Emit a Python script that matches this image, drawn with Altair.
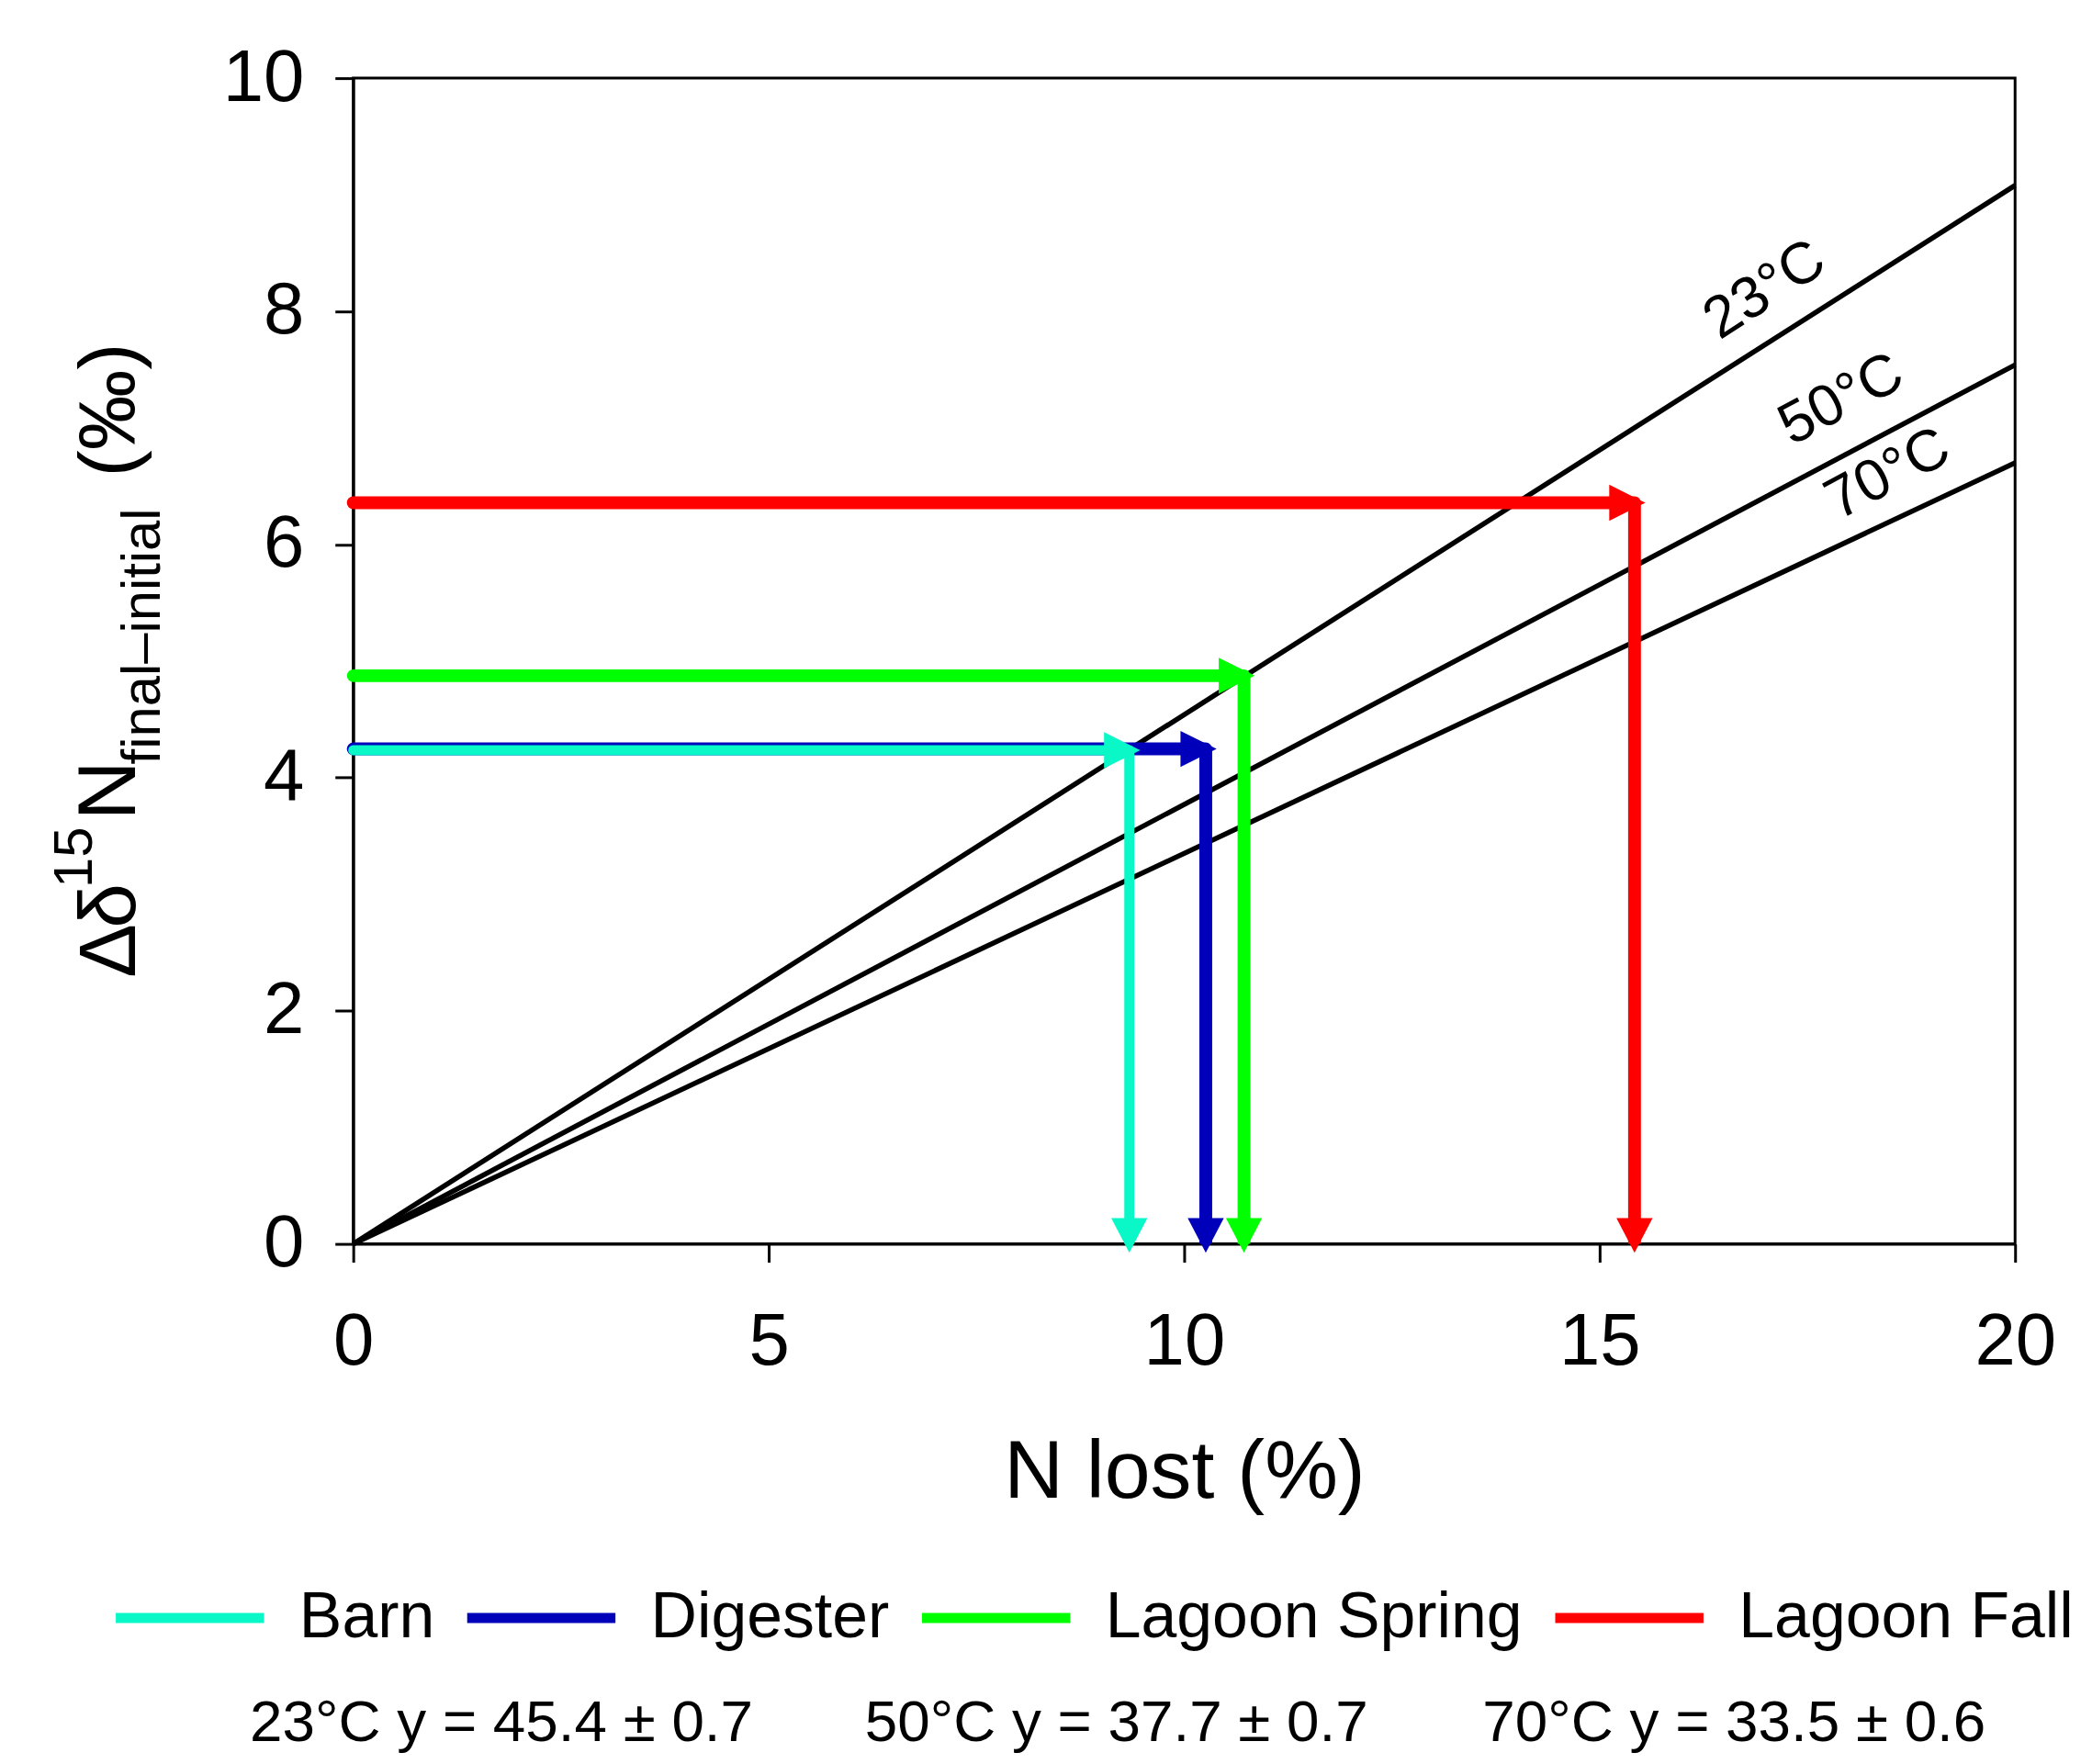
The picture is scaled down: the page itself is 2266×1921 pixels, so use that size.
import altair as alt
import pandas as pd

FONT = "Liberation Sans"

# Regression lines (temperature) : straight lines from origin to x = 20
temps = ["23°C", "50°C", "70°C"]
line_x_end = [20, 20, 20]
line_y_end = [9.08, 7.54, 6.70]
label_x = [16.99, 17.91, 18.47]
label_y = [8.18, 7.24, 6.60]
label_angle = [327, 332, 332]

# Sources (arrows)
sources = ["Barn", "Digester", "Lagoon Spring", "Lagoon Fall"]
src_x = [9.34, 10.26, 10.72, 15.42]
src_y = [4.235, 4.246, 4.874, 6.358]
src_colors = ["#0AF8C8", "#0000BB", "#00FF00", "#FF0000"]

# Equations
eq_temps = ["23°C", "50°C", "70°C"]
eq_slope = [45.4, 37.7, 33.5]
eq_err = [0.7, 0.7, 0.6]

x_ticks = [0, 5, 10, 15, 20]
y_ticks = [0, 2, 4, 6, 8, 10]

W, H = 1816, 1274

lines_df = pd.DataFrame({"temp": temps, "x0": [0] * 3, "y0": [0] * 3,
                         "x1": line_x_end, "y1": line_y_end})
labels_df = pd.DataFrame({"temp": temps, "x": label_x, "y": label_y, "angle": label_angle})
# draw order: Barn last (on top)
arrows_df = pd.DataFrame({"source": sources, "x": src_x, "y": src_y, "zero": [0] * 4,
                          "ord": [3, 2, 1, 0]}).sort_values("ord")

xscale = alt.Scale(domain=[0, 20], nice=False, zero=True)
yscale = alt.Scale(domain=[0, 10], nice=False, zero=True)
cscale = alt.Scale(domain=sources, range=src_colors)

xaxis = alt.Axis(values=x_ticks, format="d", title="N lost (%)", titleFont=FONT,
                 titleFontSize=90, titleFontWeight="normal", titleColor="black",
                 titleBaseline="alphabetic", titleY=277, labelFont=FONT, labelFontSize=80,
                 labelColor="black", labelPadding=48, tickSize=20, tickWidth=3,
                 tickColor="black", domainColor="black", domainWidth=3, grid=False,
                 labelFlush=False)
yaxis = alt.Axis(values=y_ticks, format="d", title=None, labelFont=FONT, labelFontSize=80,
                 labelColor="black", labelPadding=34, tickSize=20, tickWidth=3,
                 tickColor="black", domainColor="black", domainWidth=3, grid=False,
                 labelFlush=False)

black_lines = alt.Chart(lines_df).mark_rule(color="black", strokeWidth=5.5).encode(
    x=alt.X("x0:Q", scale=xscale, axis=xaxis),
    y=alt.Y("y0:Q", scale=yscale, axis=yaxis),
    x2="x1:Q", y2="y1:Q")

temp_labels = alt.Chart(labels_df).mark_text(font=FONT, fontSize=64, color="black",
                                             align="center", baseline="middle").encode(
    x="x:Q", y="y:Q", text="temp:N", angle=alt.Angle("angle:Q", scale=None))

legend = alt.Legend(orient="none", legendX=-265, legendY=1596, direction="horizontal",
                    title=None, symbolType="stroke", symbolSize=26244, symbolStrokeWidth=11,
                    labelFont=FONT, labelFontSize=70, labelColor="black", labelOffset=33,
                    columnPadding=13, labelLimit=2000, padding=0)

width_cond = alt.condition("datum.source == 'Barn'", alt.value(11), alt.value(14))

horiz = alt.Chart(arrows_df).mark_rule(strokeCap="round").encode(
    x="zero:Q", x2="x:Q", y="y:Q",
    color=alt.Color("source:N", scale=cscale, legend=legend),
    strokeWidth=width_cond,
    order="ord:Q")

vert = alt.Chart(arrows_df).mark_rule().encode(
    x="x:Q", y="y:Q", y2="zero:Q",
    color=alt.Color("source:N", scale=cscale, legend=None),
    strokeWidth=width_cond,
    order="ord:Q")

head_right = alt.Chart(arrows_df).mark_point(
    shape="M-1.4,-1L0.6,0L-1.4,1Z", size=1560, filled=True, opacity=1, strokeWidth=0).encode(
    x="x:Q", y="y:Q",
    color=alt.Color("source:N", scale=cscale, legend=None),
    order="ord:Q")

head_down = alt.Chart(arrows_df).mark_point(
    shape="M-1,-1.43L1,-1.43L0,0.49Z", size=1560, filled=True, opacity=1, strokeWidth=0).encode(
    x="x:Q", y="zero:Q",
    color=alt.Color("source:N", scale=cscale, legend=None),
    order="ord:Q")

# Y-axis title built from pieces (super/subscript), rotated
one = pd.DataFrame({"a": [0]})
ytitle_parts = [
    ("Δ", -239, 983, 88),
    ("δ", -239, 929, 88),
    ("15", -286, 885, 60),
    ("N", -239, 811, 90),
    ("final–initial", -211, 750, 60),
    ("(‰)", -239, 436, 88),
]
ytitle_layers = [
    alt.Chart(one).mark_text(text=t, font=FONT, fontSize=fs, angle=270, align="left",
                             baseline="alphabetic", color="black").encode(
        x=alt.value(px), y=alt.value(py))
    for t, px, py, fs in ytitle_parts
]

eq_x = [162, 834, 1509]
eq_layers = [
    alt.Chart(one).mark_text(text=f"{t} y = {s} ± {e}", font=FONT, fontSize=64,
                             align="center", baseline="alphabetic", color="black").encode(
        x=alt.value(px), y=alt.value(1817))
    for t, s, e, px in zip(eq_temps, eq_slope, eq_err, eq_x)
]

chart = alt.layer(black_lines, horiz, vert, head_right, head_down, temp_labels,
                  *ytitle_layers, *eq_layers).properties(
    width=W, height=H,
    padding={"left": 378, "top": 74, "right": 64, "bottom": 557},
    autosize=alt.AutoSizeParams(type="none"),
    background="white",
).configure_view(stroke="black", strokeWidth=3)

chart.save("out.html", embed_options={"renderer": "svg", "actions": False})
